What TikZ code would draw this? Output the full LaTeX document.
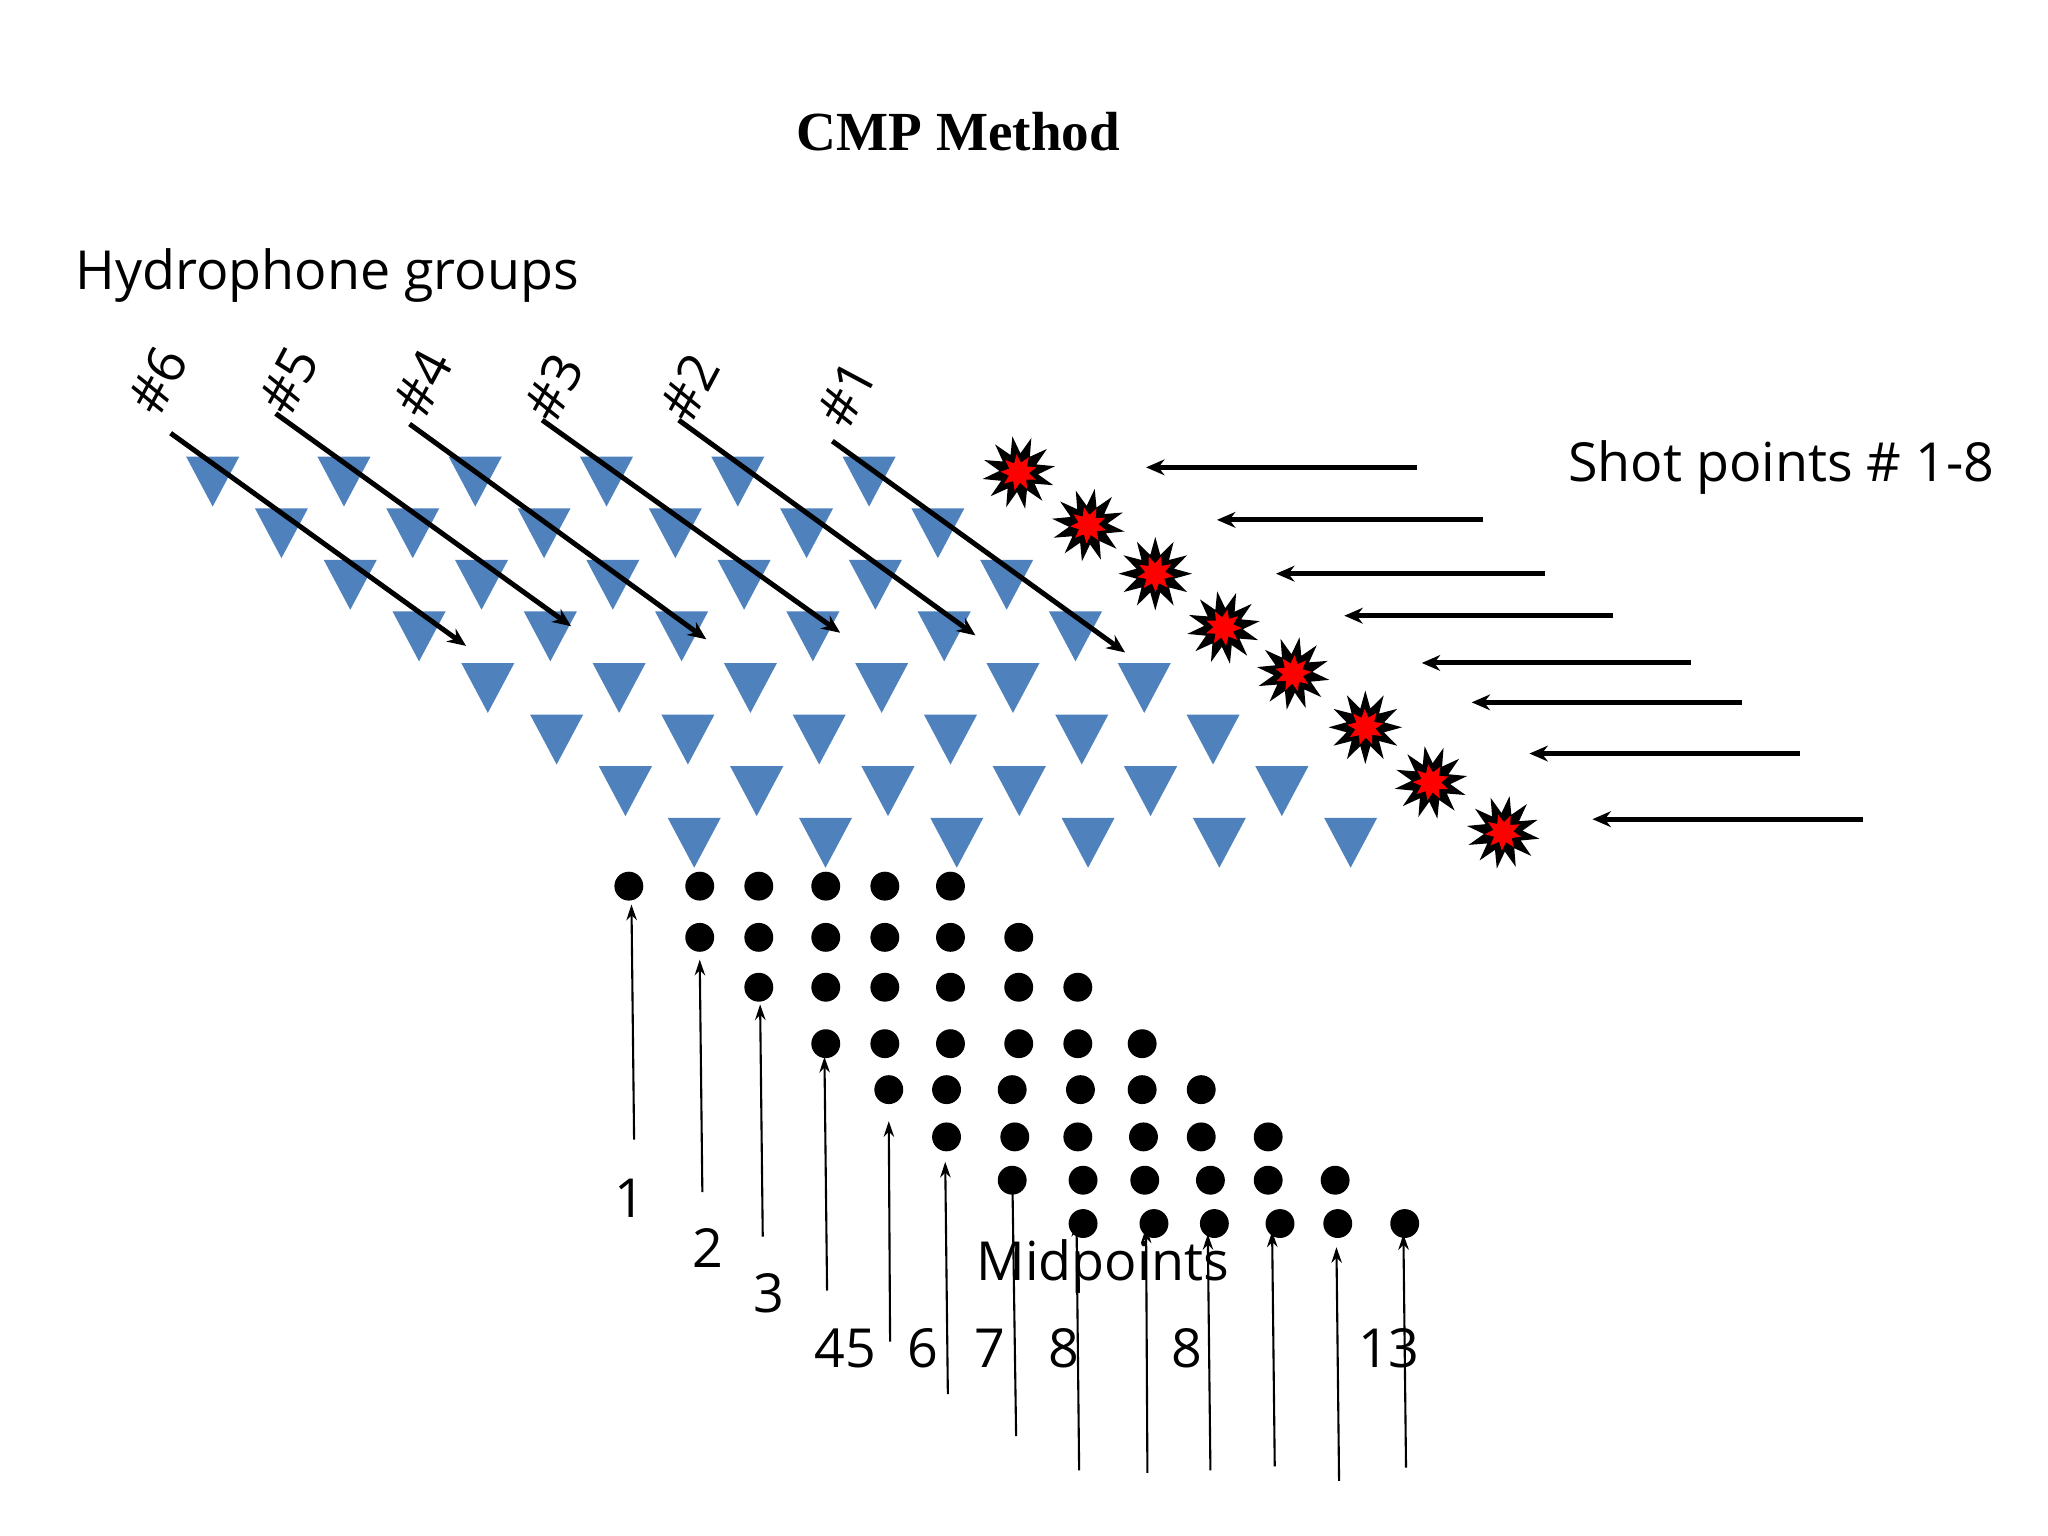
\documentclass[tikz,border=0pt]{standalone}
\usepackage{fontspec}
\setmainfont{Open Sans}
\newfontfamily\titlefont{Liberation Serif}
\usetikzlibrary{shapes.geometric,arrows.meta}
\definecolor{triblue}{HTML}{4F81BD}
\begin{document}
\begin{tikzpicture}[x=0.5pt,y=-0.5pt,
  tri/.style={isosceles triangle,isosceles triangle apex angle=56,shape border rotate=-90,fill=triblue,inner sep=0pt,minimum height=19pt,minimum width=20pt},
  dotn/.style={circle,fill=black,inner sep=0pt,minimum size=11pt},
  lab/.style={font=\fontsize{20.5}{22}\selectfont,inner sep=1pt},
  thickarr/.style={line width=1.9pt,-{Stealth[length=7pt,width=6pt]}},
  thinarr/.style={line width=0.8pt,-{Stealth[length=6pt,width=4pt]}},
  blast/.style={star,star points=12,star point ratio=1.9,fill=black,inner sep=0pt,minimum size=28pt},
  blastin/.style={star,star points=9,star point ratio=1.8,fill=red,inner sep=0pt,minimum size=14pt}]
\useasboundingbox (0,0) rectangle (1560,1170);
\node[font=\titlefont\bfseries\fontsize{21}{24}\selectfont] (title) at (730,100) {CMP Method};
\node[lab,anchor=west] (hg) at (55,210) {Hydrophone groups};
\node[lab,anchor=west] (sp) at (1192,356) {Shot points \# 1-8};
% triangles
\foreach \r in {0,...,7}{
  \foreach \c in {0,...,5}{
    \node[tri] (t\r\c) at ({162+100*\c+52.4*\r},{360+39.3*\r}) {};
  }
}
% hash labels
\foreach \n/\x/\y in {6/120/290,5/220/290,4/322/292,3/422/295,2/525/295,1/645/300}{
  \node[lab,rotate=62] (h\n) at (\x,\y) {\#\n};
}
% diagonal arrows
\foreach \n/\xa/\ya/\xb/\yb in {6/130/330/355/492,5/210/315/435/477,4/312/323/538/487,3/413/320/640/482,2/517/320/743/484,1/634/336/857/497}{
  \coordinate (ds\n) at (\xa,\ya); \coordinate (de\n) at (\xb,\yb);
  \draw[thickarr] (ds\n) -- (de\n);
}
% shot points
\foreach \i/\x/\y/\ta/\sa/\yy in {1/776/360/873/1079/356,2/829/400/927/1130/396,3/880/437/972/1177/437,4/932/478/1024/1229/469,5/985/513/1083/1288/505,6/1040/554/1121/1327/535,7/1090/596/1165/1371/574,8/1145/634/1213/1419/624}{
  \node[blast,rotate=10*\i] (s\i) at (\x,\y) {};
  \node[blastin,rotate=7*\i] (si\i) at (\x,\y) {};
  \coordinate (as\i) at (\sa,\yy); \coordinate (ae\i) at (\ta,\yy);
  \draw[thickarr] (as\i) -- (ae\i);
}
% dots
\foreach \r/\y/\xs in {0/675/{479,533,578,629,674,724},1/714/{533,578,629,674,724,776},2/752/{578,629,674,724,776,821},3/795/{629,674,724,776,821,870},4/830/{677,721,771,823,870,915},5/866/{721,773,821,871,915,966},6/899/{771,825,872,922,966,1017},7/932/{825,879,925,975,1019,1070}}{
  \foreach \x [count=\k] in \xs { \node[dotn] (d\r\k) at (\x,\y) {}; }
}
% midpoint arrows
\foreach \i/\xa/\ya/\xb/\yb in {1/483/868/481/689,2/535/908/533/731,3/581/942/579/765,4/630/983/628/805,5/678/1022/677/854,6/722/1062/720/885,7/774/1094/771/888,8/822/1120/820/930,9/874/1122/873/935,10/922/1120/920/940,11/971/1117/969/938,12/1020/1128/1018/950,13/1071/1118/1069/940}{
  \coordinate (ms\i) at (\xa,\ya); \coordinate (me\i) at (\xb,\yb);
  \draw[thinarr] (ms\i) -- (me\i);
}
\node[lab] (m1) at (480,913) {1};
\node[lab] (m2) at (539,951) {2};
\node[lab] (m3) at (586,985) {3};
\node[lab] (m45) at (644,1027) {45};
\node[lab] (m6) at (703,1027) {6};
\node[lab] (m7) at (754,1027) {7};
\node[lab] (m8a) at (810,1027) {8};
\node[lab] (m8b) at (904,1027) {8};
\node[lab] (m13) at (1058,1027) {13};
\node[lab] (mid) at (840,965) {Midpoints};
\end{tikzpicture}
\end{document}
